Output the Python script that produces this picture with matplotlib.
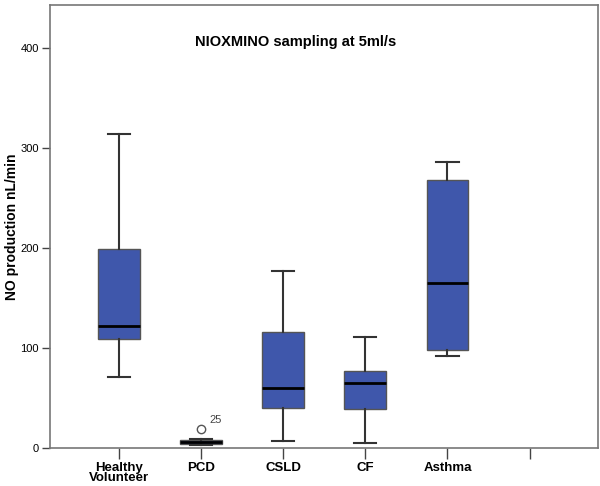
import matplotlib.pyplot as plt

plt.rcParams['font.family'] = ['Liberation Sans', 'DejaVu Sans']

groups = ['Healthy\nVolunteer', 'PCD', 'CSLD', 'CF', 'Asthma', '']
whislo = [71, 3, 7, 5, 92]
q1 = [109, 4, 40, 39, 98]
med = [122, 6, 60, 65, 165]
q3 = [199, 8, 116, 77, 268]
whishi = [314, 9, 177, 111, 286]
fliers = [[], [19], [], [], []]
flier_ids = ['', '25', '', '', '']

stats = []
for i in range(len(med)):
    stats.append({'whislo': whislo[i], 'q1': q1[i], 'med': med[i], 'q3': q3[i],
                  'whishi': whishi[i], 'fliers': fliers[i]})

fig = plt.figure(figsize=(6, 4.86), dpi=100)
ax = fig.add_axes([0.0833, 0.0782, 0.913, 0.9115])

edge = '#333333'
ax.bxp(stats, positions=range(1, 6), widths=0.51, patch_artist=True,
       boxprops=dict(facecolor='#3F57AB', edgecolor='#555555', linewidth=1),
       medianprops=dict(color='black', linewidth=2),
       whiskerprops=dict(color=edge, linewidth=1.5),
       capprops=dict(color=edge, linewidth=1.5),
       capwidths=0.27,
       flierprops=dict(marker='o', markerfacecolor='white', markeredgecolor='#555555',
                       markersize=6, markeredgewidth=1))

for i, ids in enumerate(flier_ids):
    for v in fliers[i]:
        ax.text(i + 1.1, v + 4, ids, fontsize=8, color='#444444', va='bottom')

ax.set_xlim(0.16, 6.83)
ax.set_ylim(0, 443)
ax.set_xticks(range(1, 7))
ax.set_xticklabels(groups, fontsize=9.5, fontweight='bold', linespacing=0.78)
ax.set_yticks([0, 100, 200, 300, 400])
ax.tick_params(axis='y', labelsize=8, length=6, width=1, color='#444444', pad=2)
ax.tick_params(axis='x', length=8, width=1, color='#444444', pad=2)
for s in ax.spines.values():
    s.set_color('#777777')
    s.set_linewidth(1.2)

ax.set_ylabel('NO production nL/min', fontsize=10, fontweight='bold', labelpad=1)
ax.text(0.449, 0.916, 'NIOXMINO sampling at 5ml/s', transform=ax.transAxes,
        fontsize=10.5, fontweight='bold', ha='center', va='center')

fig.savefig('out.png', dpi=100)
